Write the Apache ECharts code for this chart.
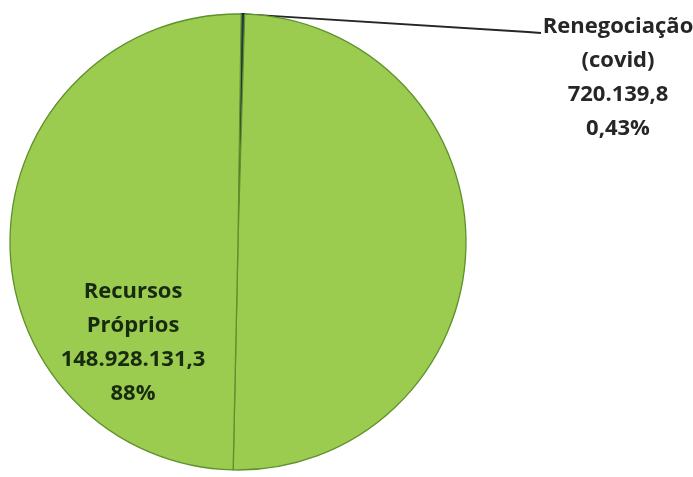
<!DOCTYPE html>
<html>
<head>
<meta charset="utf-8">
<script src="https://cdn.jsdelivr.net/npm/echarts@6/dist/echarts.min.js"></script>
<style>
  html, body { margin: 0; padding: 0; background: #ffffff; }
  #chart { width: 693px; height: 477px; }
</style>
</head>
<body>
<div id="chart"></div>
<script>
// Slices in clockwise order starting at the top of the pie
const names = ['Renegociação\n(covid)', 'Outras fontes', 'Recursos\nPróprios'];
const values = [720139.8, 148900000, 148928131.3];
// Shares as printed on the labels
const statedShares = ['0,43%', '', '88%'];
const showLabel = [true, false, true];
const sliceColors = ['#2c3853', '#9bcb4f', '#9bcb4f'];
const sliceBorders = ['#1d2538', '#5f912c', '#5f912c'];
const sliceBorderWidths = [2, 1.3, 1.3];

// Brazilian number format: 148.928.131,3
function formatBR(v) {
  const fixed = v.toFixed(1);
  const parts = fixed.split('.');
  const intPart = parts[0].replace(/\B(?=(\d{3})+(?!\d))/g, '.');
  return intPart + ',' + parts[1];
}

const fontFamily = '"Open Sans", "Noto Sans", sans-serif';

const data = names.map((n, i) => {
  const item = {
    name: n,
    value: values[i],
    itemStyle: { color: sliceColors[i], borderColor: sliceBorders[i], borderWidth: sliceBorderWidths[i] },
    label: { show: showLabel[i] },
    labelLine: { show: i === 0 }
  };
  if (i === 2) {
    item.label = {
      show: true,
      position: 'inside',
      offset: [12, 103],
      color: '#182a0f'
    };
  }
  return item;
});

const chart = echarts.init(document.getElementById('chart'), null, { renderer: 'canvas' });

chart.setOption({
  backgroundColor: '#ffffff',
  animation: false,
  series: [{
    type: 'pie',
    center: [238, 242],
    radius: 228,
    startAngle: 89.2,
    clockwise: true,
    avoidLabelOverlap: false,
    minAngle: 0,
    data: data,
    label: {
      position: 'outside',
      fontFamily: fontFamily,
      fontWeight: 'bold',
      fontSize: 22,
      lineHeight: 34,
      align: 'center',
      color: '#262626',
      formatter: p => p.name + '\n' + formatBR(p.value) + '\n' + statedShares[p.dataIndex]
    },
    labelLine: {
      show: true,
      lineStyle: { color: '#262626', width: 1.8 }
    },
    labelLayout: function (params) {
      if (params.dataIndex !== 0) return {};
      const start = params.labelLinePoints ? params.labelLinePoints[0] : [243, 14];
      return {
        x: 618,
        y: 10,
        align: 'center',
        verticalAlign: 'top',
        labelLinePoints: [start, [528, 32], [541, 33]]
      };
    },
    emphasis: { disabled: true }
  }]
});
</script>
</body>
</html>
